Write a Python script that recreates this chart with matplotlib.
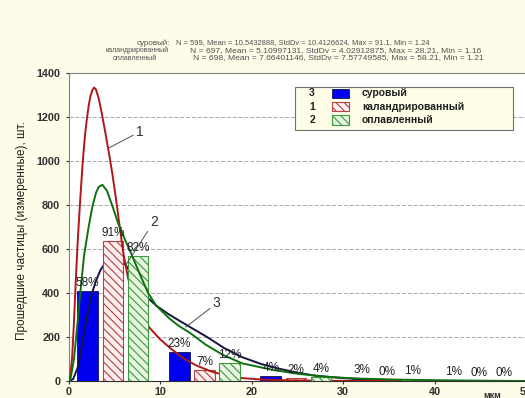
import matplotlib
matplotlib.use('Agg')
import matplotlib.pyplot as plt
from matplotlib.patches import Rectangle

plt.rcParams['font.family'] = ['Liberation Sans', 'DejaVu Sans']
plt.rcParams['hatch.linewidth'] = 0.8

# histogram bins (мкм) and bar heights
bin_starts = [0, 10, 20, 30, 40]
raw_counts = [410, 133, 22, 12, 4]          # суровый
cal_counts = [635, 50, 12, 3, 0]            # каландрированный
mel_counts = [570, 83, 18, 7, 2]            # оплавленный
raw_pct = ['58%', '23%', '4%', '3%', '1%']
cal_pct = ['91%', '7%', '2%', '0%', '0%']
mel_pct = ['82%', '12%', '4%', '1%', '0%']

# fitted curves
cal_x = [0.0, 0.2, 0.4, 0.6, 0.8, 1.0, 1.2, 1.4, 1.6, 1.8, 2.0, 2.2, 2.4, 2.6, 2.8,
         3.0, 3.3, 3.6, 4.0, 4.4, 4.8, 5.2, 5.6, 6.0, 6.5, 7.0, 7.6, 8.2, 8.9, 10,
         11.1, 12.5, 14, 15.5, 17, 18.7, 21, 24, 28, 33, 40, 50]
cal_y = [0, 25, 110, 270, 460, 630, 770, 900, 1020, 1115, 1190, 1250, 1295, 1322, 1334,
         1325, 1285, 1225, 1135, 1040, 940, 825, 700, 580, 470, 395, 328, 280, 240, 190,
         150, 105, 70, 45, 27, 14, 7, 3, 1, 0, 0, 0]

mel_x = [0.0, 0.2, 0.6, 1.0, 1.3, 1.7, 2.2, 2.6, 3.0, 3.3, 3.7, 4.2, 4.8, 5.4, 6.2,
         6.9, 7.8, 8.7, 9.6, 11, 12, 13.3, 15, 16.9, 19, 22.4, 25, 28, 31, 35, 40, 45, 50]
mel_y = [0, 5, 100, 270, 406, 570, 700, 790, 855, 882, 892, 865, 795, 720, 640,
         575, 485, 400, 342, 285, 252, 218, 165, 118, 80, 50, 33, 20, 12, 7, 3, 1, 0]

raw_x = [0.0, 0.5, 1.0, 1.5, 2.0, 2.5, 3.0, 3.5, 4.0, 4.5, 5.0, 5.5, 6.2, 7.0, 7.8,
         8.6, 9.6, 11, 12.2, 13.5, 15.1, 17, 19, 21, 23, 25, 27, 30, 33, 37, 42, 50]
raw_y = [0, 8, 60, 170, 290, 390, 455, 505, 535, 548, 550, 545, 530, 480, 425,
         380, 342, 302, 272, 240, 201, 150, 108, 78, 56, 38, 24, 13, 7, 3, 1, 0]

stats_lines = [
    ('суровый:', 'N = 599, Mean = 10.5432888, StdDv = 10.4126624, Max = 91.1, Min = 1.24'),
    ('каландрированный', 'N = 697, Mean = 5.10997131, StdDv = 4.02912875, Max = 28.21, Min = 1.16'),
    ('оплавленный', 'N = 698, Mean = 7.66401146, StdDv = 7.57749585, Max = 58.21, Min = 1.21'),
]

W, H = 525, 398


def fx(px):
    return px / W


def fy(py):
    return 1 - py / H


fig = plt.figure(figsize=(W / 100, H / 100), dpi=100, facecolor='#fcfce9')
ax = fig.add_axes([fx(68.5), fy(381), 457.5 / W, 308 / H])
ax.set_facecolor('white')

width = 2.25
blue_style = dict(color='#0000f0', edgecolor='#101050', linewidth=0.6)
red_style = dict(color='#fbeeee', edgecolor='#b84040', hatch='\\\\\\\\', linewidth=0.8)
green_style = dict(color='#e6f4e0', edgecolor='#3c9a3c', hatch='\\\\\\\\', linewidth=0.8)

# drawing order follows the original: series bars then its curve
xb = [s + 2.1 for s in bin_starts]
xr = [s + 4.85 for s in bin_starts]
xg = [s + 7.6 for s in bin_starts]
ax.bar(xb, raw_counts, width=width, zorder=2, **blue_style)
ax.plot(raw_x, raw_y, color='#141440', lw=1.4, zorder=3)
ax.bar(xr, cal_counts, width=width, zorder=4, **red_style)
ax.plot(cal_x, cal_y, color='#b01818', lw=1.4, zorder=5)
ax.bar(xg, mel_counts, width=width, zorder=6, **green_style)
ax.plot(mel_x, mel_y, color='#107010', lw=1.4, zorder=7)

for xs, hs, labels in [(xb, raw_counts, raw_pct), (xr, cal_counts, cal_pct), (xg, mel_counts, mel_pct)]:
    for x, h, lab in zip(xs, hs, labels):
        ax.annotate(lab, (x, h), xytext=(0, 2), textcoords='offset pixels',
                    ha='center', va='bottom', fontsize=8.5, color='#202020', zorder=8)

# curve numbers with pointer lines
pointer = dict(arrowstyle='-', color='#505050', lw=0.7, shrinkA=0, shrinkB=0)
ax.annotate('1', xy=(4.35, 1058), xytext=(7.8, 1133), fontsize=10, color='#303030',
            ha='center', va='center', arrowprops=pointer, zorder=9)
ax.annotate('2', xy=(6.3, 530), xytext=(9.35, 724), fontsize=10, color='#303030',
            ha='center', va='center', arrowprops=pointer, zorder=9)
ax.annotate('3', xy=(12.8, 245), xytext=(16.2, 353), fontsize=10, color='#303030',
            ha='center', va='center', arrowprops=pointer, zorder=9)

ax.set_xlim(0, 50)
ax.set_ylim(0, 1400)
ax.set_xticks(range(0, 51, 10))
ax.set_yticks(range(0, 1401, 200))
ax.tick_params(axis='both', labelsize=7.8, colors='#303030', length=2.5)
ax.tick_params(axis='y', pad=3.5)
ax.tick_params(axis='x', pad=1.5)
for lab in ax.get_xticklabels() + ax.get_yticklabels():
    lab.set_fontweight('bold')
ax.yaxis.grid(True, linestyle=(0, (4, 2)), color='#a8a8a8', lw=0.7)
ax.set_axisbelow(True)
for side in ['left', 'top']:
    ax.spines[side].set_color('#808080')
ax.spines['bottom'].set_color('#303030')
ax.spines['right'].set_visible(False)

ax.annotate('мкм', xy=(46.3, 0), xycoords='data', xytext=(0, -14), textcoords='offset pixels',
            ha='center', va='center', fontsize=6.5, fontweight='bold', color='#303030',
            annotation_clip=False)

fig.text(fx(22), fy(231), 'Прошедшие частицы (измеренные), шт.', rotation=90,
         ha='center', va='center', fontsize=8.5, color='#202020')

# statistics header
rows_py = [43, 50.5, 58]
label_x = [170, 137, 135]
stats_x = [176, 190, 193]
stats_size = [5.4, 6.1, 6.1]
for i, (name, stats) in enumerate(stats_lines):
    if i == 0:
        fig.text(fx(label_x[i]), fy(rows_py[i]), name, ha='right', va='center',
                 fontsize=5.8, color='#505050')
    else:
        fig.text(fx(label_x[i]), fy(rows_py[i]), name, ha='center', va='center',
                 fontsize=5.0, color='#505050')
    fig.text(fx(stats_x[i]), fy(rows_py[i]), stats, ha='left', va='center',
             fontsize=stats_size[i], color='#505050')

# legend box
fig.add_artist(Rectangle((fx(295), fy(130)), 218 / W, 43 / H, transform=fig.transFigure,
                         facecolor='#fdfde8', edgecolor='#707070', lw=0.8, zorder=10))
leg_numbers = ['3', '1', '2']
leg_names = ['суровый', 'каландрированный', 'оплавленный']
leg_styles = [blue_style, red_style, green_style]
for i, py in enumerate([93.3, 106.7, 120]):
    fig.text(fx(312), fy(py), leg_numbers[i], ha='center', va='center', fontsize=7.5,
             fontweight='bold', color='#202020', zorder=11)
    st = dict(leg_styles[i])
    fc = st.pop('color')
    fig.add_artist(Rectangle((fx(332), fy(py + 4.5)), 17 / W, 9 / H, transform=fig.transFigure,
                             facecolor=fc, zorder=11, **st))
    fig.text(fx(362), fy(py), leg_names[i], ha='left', va='center', fontsize=7.5,
             fontweight='bold', color='#202020', zorder=11)

fig.savefig('out.png', dpi=100, facecolor=fig.get_facecolor())
